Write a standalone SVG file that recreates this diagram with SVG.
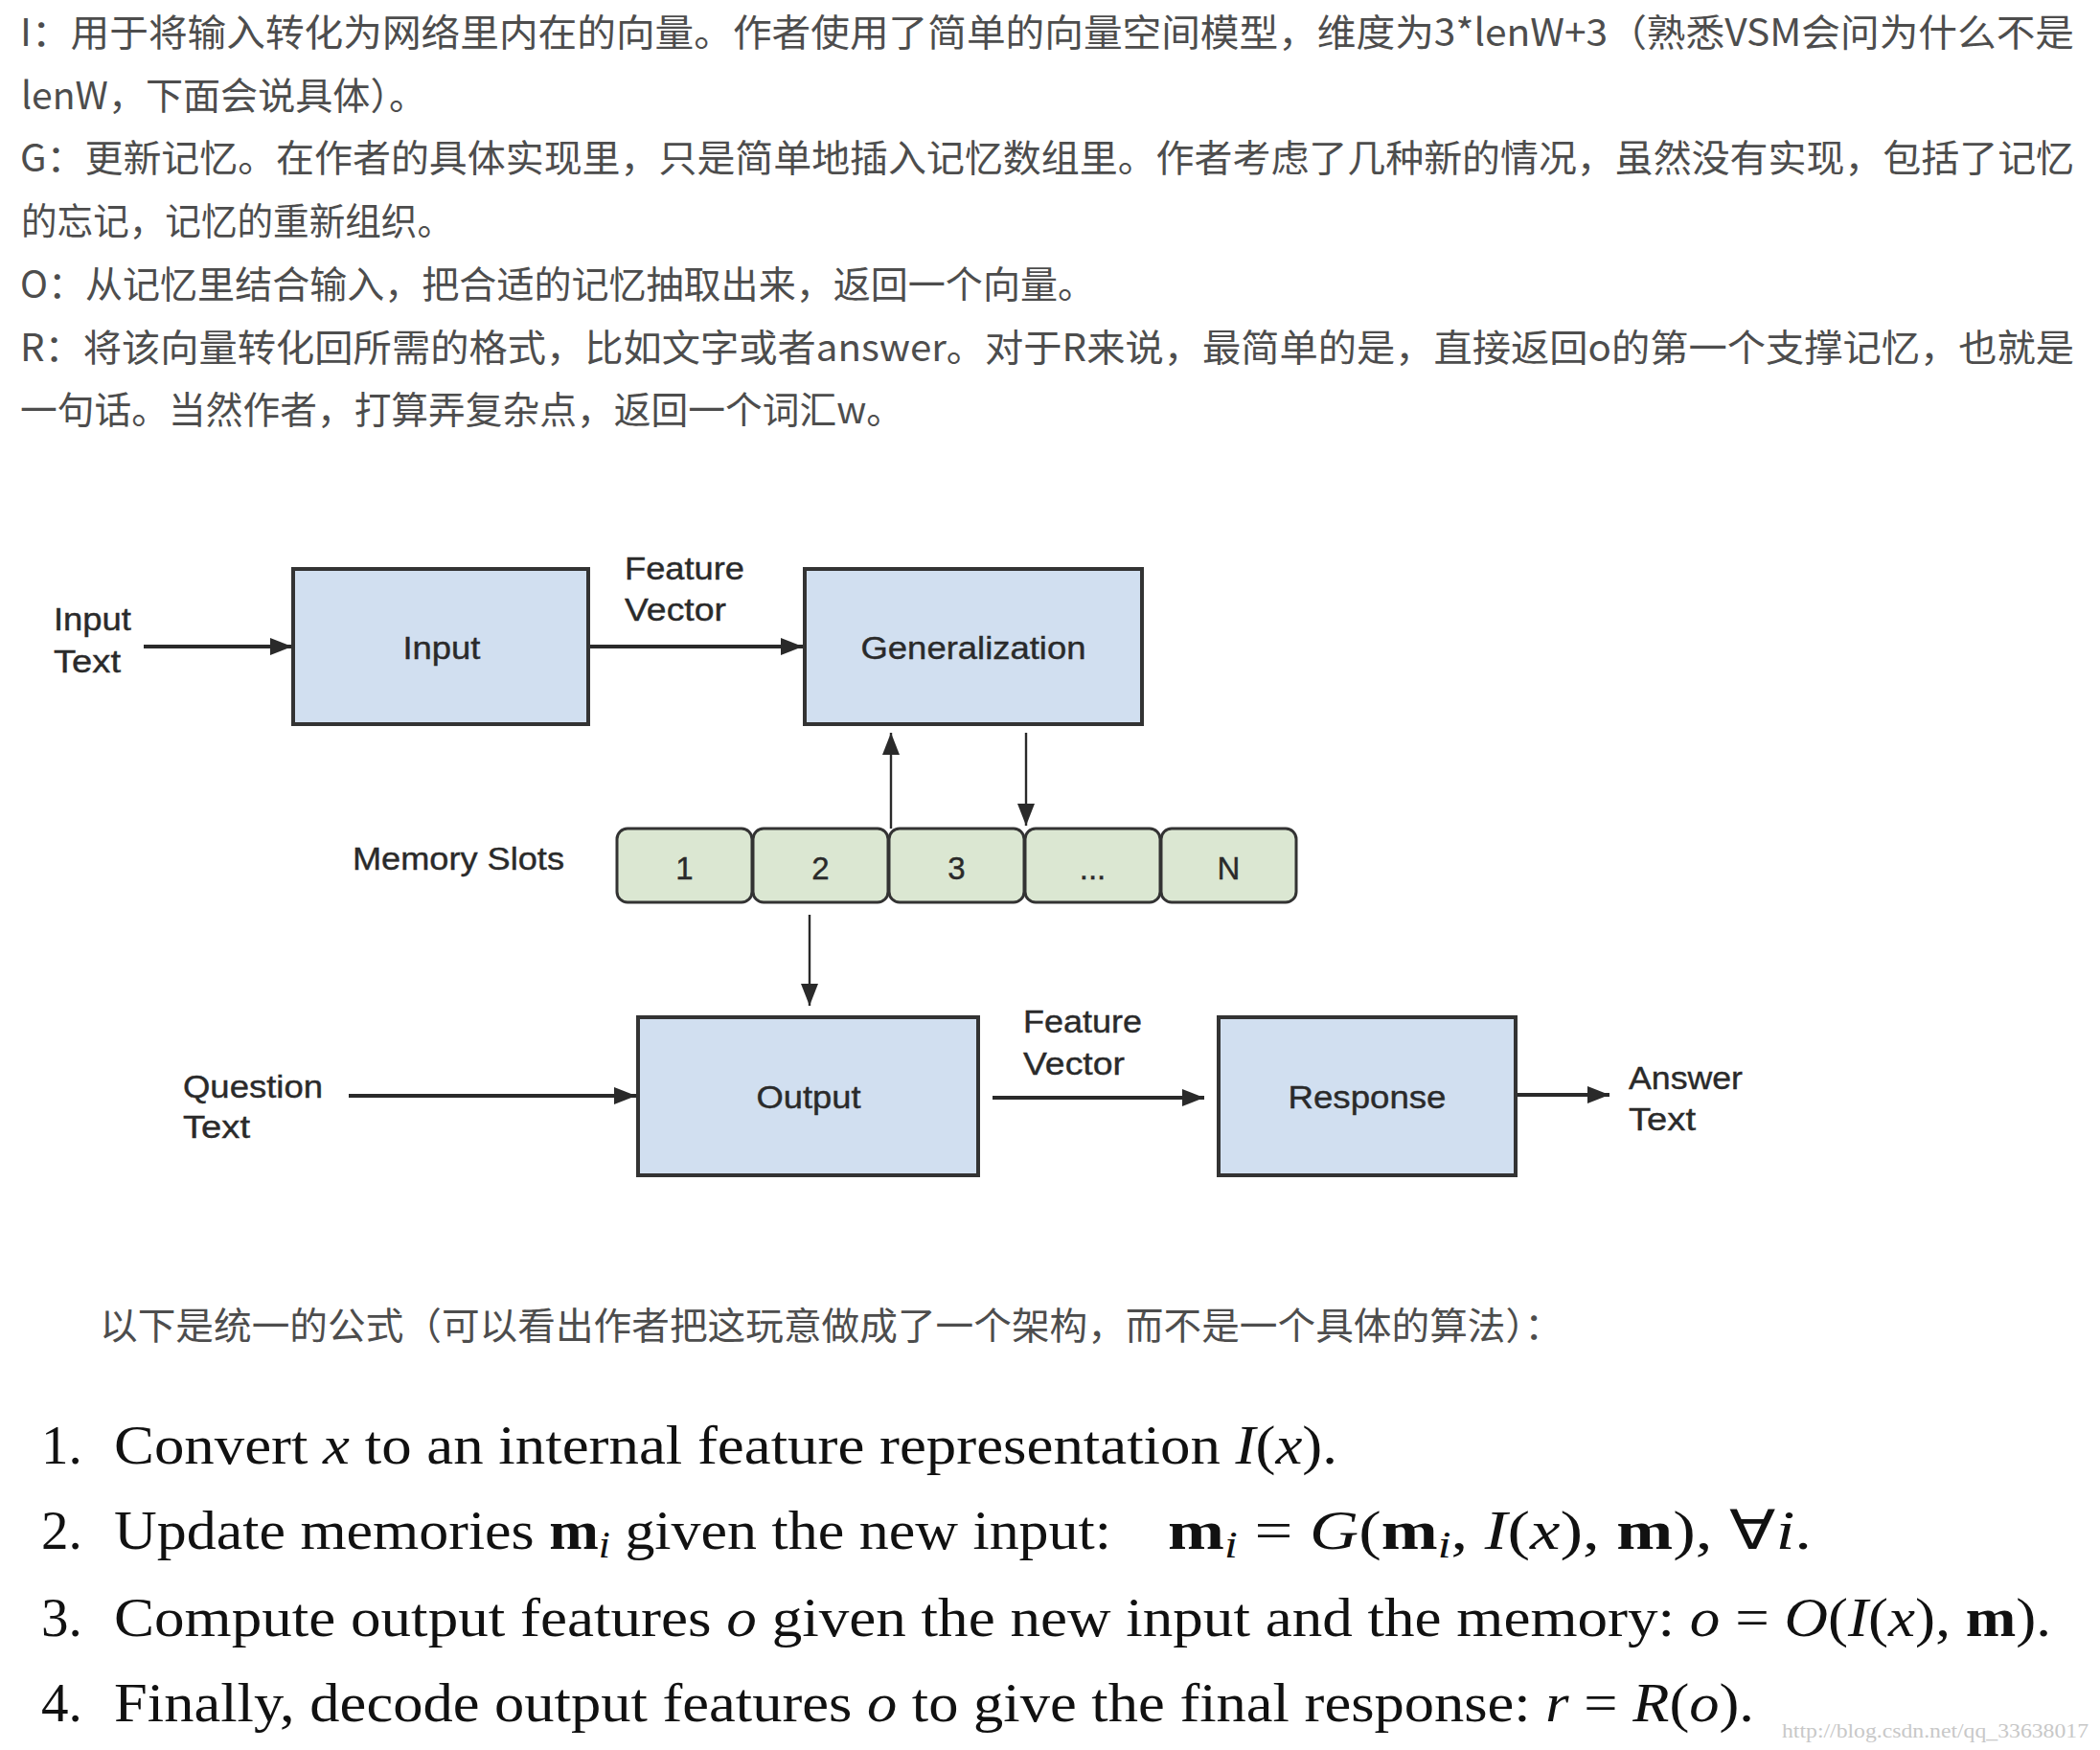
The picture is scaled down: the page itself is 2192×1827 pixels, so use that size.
<svg xmlns="http://www.w3.org/2000/svg" width="2192" height="1827" viewBox="0 0 2192 1827">
<defs>
<style>
.cn{font-family:"Noto Sans CJK SC","Noto Sans",sans-serif;font-size:39px;fill:#4d4d4d}
.lb{font-family:"Liberation Sans",Arial,sans-serif;font-size:33px;fill:#2a2a2a;stroke:#2a2a2a;stroke-width:0.4}
.mid{text-anchor:middle}
.box{fill:#d1dff0;stroke:#333;stroke-width:4}
.slot{fill:#dbe7d2;stroke:#333;stroke-width:3}
.thick{stroke:#2a2a2a;stroke-width:4;fill:none}
.thin{stroke:#2a2a2a;stroke-width:2.4;fill:none}
.mt{font-family:"Liberation Serif","Times New Roman",serif;font-size:57px;fill:#111}
.it{font-style:italic}
.bd{font-weight:bold}
</style>
<marker id="ah" markerUnits="userSpaceOnUse" markerWidth="26" markerHeight="20" refX="23" refY="9" orient="auto">
<path d="M0,0 L23,9 L0,18 z" fill="#2a2a2a"/>
</marker>
</defs>
<rect width="2192" height="1827" fill="#fff"/>

<g id="intro">
<text class="cn" x="21" y="48" textLength="2144" lengthAdjust="spacingAndGlyphs">I：用于将输入转化为网络里内在的向量。作者使用了简单的向量空间模型，维度为3*lenW+3（熟悉VSM会问为什么不是</text>
<text class="cn" x="22" y="114" textLength="423" lengthAdjust="spacingAndGlyphs">lenW，下面会说具体）。</text>
<text class="cn" x="21" y="179" textLength="2144" lengthAdjust="spacingAndGlyphs">G：更新记忆。在作者的具体实现里，只是简单地插入记忆数组里。作者考虑了几种新的情况，虽然没有实现，包括了记忆</text>
<text class="cn" x="22" y="245" textLength="451" lengthAdjust="spacingAndGlyphs">的忘记，记忆的重新组织。</text>
<text class="cn" x="21" y="311" textLength="1122" lengthAdjust="spacingAndGlyphs">O：从记忆里结合输入，把合适的记忆抽取出来，返回一个向量。</text>
<text class="cn" x="21" y="377" textLength="2144" lengthAdjust="spacingAndGlyphs">R：将该向量转化回所需的格式，比如文字或者answer。对于R来说，最简单的是，直接返回o的第一个支撑记忆，也就是</text>
<text class="cn" x="21" y="442" textLength="922" lengthAdjust="spacingAndGlyphs">一句话。当然作者，打算弄复杂点，返回一个词汇w。</text>
</g>

<g id="connectors">
<line class="thick" x1="150" y1="675" x2="305" y2="675" marker-end="url(#ah)"/>
<line class="thick" x1="614" y1="675" x2="838" y2="675" marker-end="url(#ah)"/>
<line class="thin" x1="930" y1="865" x2="930" y2="765" marker-end="url(#ah)"/>
<line class="thin" x1="1071" y1="765" x2="1071" y2="862" marker-end="url(#ah)"/>
<line class="thin" x1="845" y1="955" x2="845" y2="1050" marker-end="url(#ah)"/>
<line class="thick" x1="364" y1="1144" x2="664" y2="1144" marker-end="url(#ah)"/>
<line class="thick" x1="1036" y1="1146" x2="1257" y2="1146" marker-end="url(#ah)"/>
<line class="thick" x1="1582" y1="1143" x2="1680" y2="1143" marker-end="url(#ah)"/>
</g>

<g id="input-text-label">
<text class="lb" x="56" y="658" textLength="81" lengthAdjust="spacingAndGlyphs">Input</text>
<text class="lb" x="56" y="702" textLength="70" lengthAdjust="spacingAndGlyphs">Text</text>
</g>
<g id="node-input">
<rect class="box" x="306" y="594" width="308" height="162"/>
<text class="lb mid" x="461" y="688" textLength="81" lengthAdjust="spacingAndGlyphs">Input</text>
</g>
<g id="feature-vector-top">
<text class="lb" x="652" y="605" textLength="125" lengthAdjust="spacingAndGlyphs">Feature</text>
<text class="lb" x="652" y="648" textLength="106" lengthAdjust="spacingAndGlyphs">Vector</text>
</g>
<g id="node-generalization">
<rect class="box" x="840" y="594" width="352" height="162"/>
<text class="lb mid" x="1016" y="688" textLength="235" lengthAdjust="spacingAndGlyphs">Generalization</text>
</g>
<g id="memory-slots-label">
<text class="lb" x="368" y="908" textLength="221" lengthAdjust="spacingAndGlyphs">Memory Slots</text>
</g>
<g id="slot-1"><rect class="slot" x="644" y="865" width="141" height="77" rx="11"/><text class="lb mid" x="714.5" y="918">1</text></g>
<g id="slot-2"><rect class="slot" x="786" y="865" width="141" height="77" rx="11"/><text class="lb mid" x="856.5" y="918">2</text></g>
<g id="slot-3"><rect class="slot" x="928" y="865" width="141" height="77" rx="11"/><text class="lb mid" x="998.5" y="918">3</text></g>
<g id="slot-4"><rect class="slot" x="1070" y="865" width="141" height="77" rx="11"/><text class="lb mid" x="1140.5" y="918">...</text></g>
<g id="slot-n"><rect class="slot" x="1212" y="865" width="141" height="77" rx="11"/><text class="lb mid" x="1282.5" y="918">N</text></g>
<g id="question-text-label">
<text class="lb" x="191" y="1146" textLength="146" lengthAdjust="spacingAndGlyphs">Question</text>
<text class="lb" x="191" y="1188" textLength="70" lengthAdjust="spacingAndGlyphs">Text</text>
</g>
<g id="node-output">
<rect class="box" x="666" y="1062" width="355" height="165"/>
<text class="lb mid" x="844" y="1157" textLength="109" lengthAdjust="spacingAndGlyphs">Output</text>
</g>
<g id="feature-vector-bottom">
<text class="lb" x="1068" y="1078" textLength="124" lengthAdjust="spacingAndGlyphs">Feature</text>
<text class="lb" x="1068" y="1122" textLength="106" lengthAdjust="spacingAndGlyphs">Vector</text>
</g>
<g id="node-response">
<rect class="box" x="1272" y="1062" width="310" height="165"/>
<text class="lb mid" x="1427" y="1157" textLength="165" lengthAdjust="spacingAndGlyphs">Response</text>
</g>
<g id="answer-text-label">
<text class="lb" x="1700" y="1137" textLength="119" lengthAdjust="spacingAndGlyphs">Answer</text>
<text class="lb" x="1700" y="1180" textLength="70" lengthAdjust="spacingAndGlyphs">Text</text>
</g>

<g id="formula-intro">
<text class="cn" x="104" y="1398" textLength="1527" lengthAdjust="spacingAndGlyphs">以下是统一的公式（可以看出作者把这玩意做成了一个架构，而不是一个具体的算法）：</text>
</g>

<g id="steps">
<text class="mt" x="43" y="1528">1.</text>
<text class="mt" x="119" y="1528" textLength="1277" lengthAdjust="spacingAndGlyphs">Convert <tspan class="it">x</tspan> to an internal feature representation <tspan class="it">I</tspan>(<tspan class="it">x</tspan>).</text>
<text class="mt" x="43" y="1617">2.</text>
<text class="mt" x="119" y="1617" textLength="1041" lengthAdjust="spacingAndGlyphs">Update memories <tspan class="bd">m</tspan><tspan class="it" font-size="40" dy="9">i</tspan><tspan dy="-9"> given the new input:</tspan></text>
<text class="mt" x="1219" y="1617" textLength="672" lengthAdjust="spacingAndGlyphs"><tspan class="bd">m</tspan><tspan class="it" font-size="40" dy="9">i</tspan><tspan dy="-9"> = </tspan><tspan class="it">G</tspan>(<tspan class="bd">m</tspan><tspan class="it" font-size="40" dy="9">i</tspan><tspan dy="-9">, </tspan><tspan class="it">I</tspan>(<tspan class="it">x</tspan>), <tspan class="bd">m</tspan>), ∀<tspan class="it">i</tspan>.</text>
<text class="mt" x="43" y="1708">3.</text>
<text class="mt" x="119" y="1708" textLength="2022" lengthAdjust="spacingAndGlyphs">Compute output features <tspan class="it">o</tspan> given the new input and the memory: <tspan class="it">o</tspan> = <tspan class="it">O</tspan>(<tspan class="it">I</tspan>(<tspan class="it">x</tspan>), <tspan class="bd">m</tspan>).</text>
<text class="mt" x="43" y="1797">4.</text>
<text class="mt" x="119" y="1797" textLength="1712" lengthAdjust="spacingAndGlyphs">Finally, decode output features <tspan class="it">o</tspan> to give the final response: <tspan class="it">r</tspan> = <tspan class="it">R</tspan>(<tspan class="it">o</tspan>).</text>
</g>

<g id="watermark">
<text x="1860" y="1814" font-family="Liberation Serif, serif" font-size="21" fill="#c8c8c8" textLength="320" lengthAdjust="spacingAndGlyphs">http://blog.csdn.net/qq_33638017</text>
</g>
</svg>
